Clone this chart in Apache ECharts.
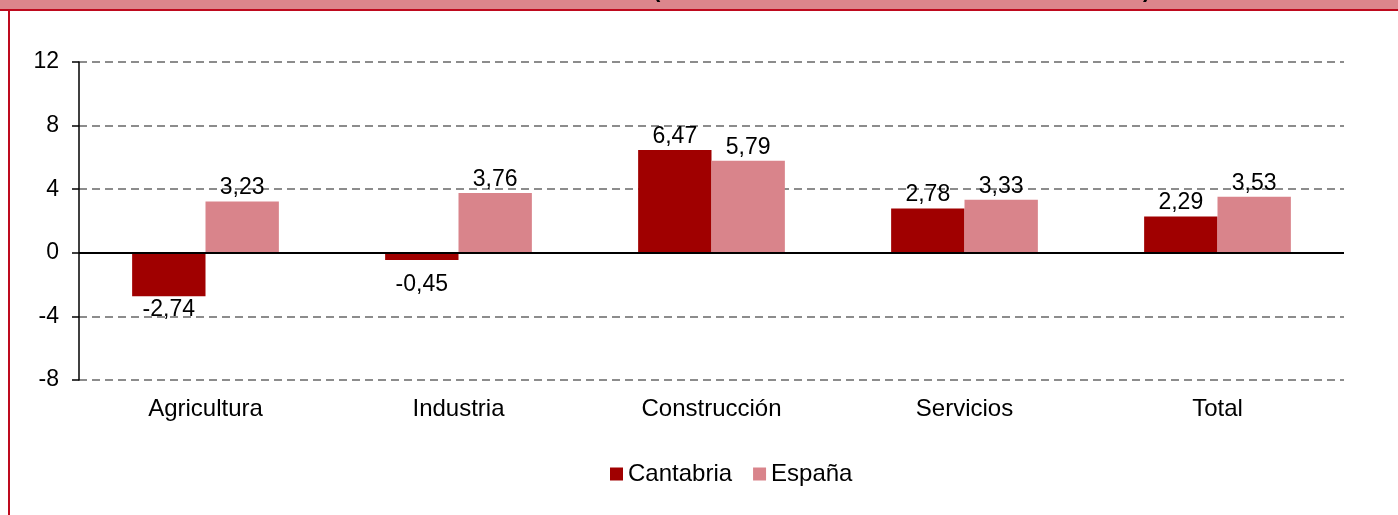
<!DOCTYPE html>
<html>
<head>
<meta charset="utf-8">
<script src="https://cdn.jsdelivr.net/npm/echarts@6/dist/echarts.min.js"></script>
<style>
  html, body { margin: 0; padding: 0; background: #fff; }
  #chart { width: 1398px; height: 515px; }
</style>
</head>
<body>
<div id="chart"></div>
<script>
var categories = ['Agricultura', 'Industria', 'Construcción', 'Servicios', 'Total'];
var cantabria = [-2.74, -0.45, 6.47, 2.78, 2.29];
var espana = [3.23, 3.76, 5.79, 3.33, 3.53];
var yTicks = [-8, -4, 0, 4, 8, 12];

var font = 'Liberation Sans, Arial, sans-serif';

function fmt(p) {
  return p.value.toFixed(2).replace('.', ',');
}

// label nudges, the small negative one sits lower in the original
function withLabels(values) {
  return values.map(function (v) {
    if (v < 0 && v > -1) {
      return { value: v, label: { distance: 13 } };
    }
    return v;
  });
}

var chart = echarts.init(document.getElementById('chart'));
chart.setOption({
  animation: false,
  textStyle: { fontFamily: font },
  grid: { left: 79, right: 54, top: 62, bottom: 135 },
  legend: {
    top: 457,
    left: 605,
    icon: 'rect',
    itemWidth: 13,
    itemHeight: 13,
    itemGap: 21,
    textStyle: { fontSize: 24, color: '#000', fontFamily: font },
    data: ['Cantabria', 'España']
  },
  xAxis: {
    type: 'category',
    data: categories,
    axisLine: { show: false, onZero: false },
    axisTick: { show: false },
    axisLabel: { fontSize: 24, color: '#000', margin: 17, fontFamily: font }
  },
  yAxis: {
    type: 'value',
    min: yTicks[0],
    max: yTicks[yTicks.length - 1],
    interval: 4,
    axisLine: { show: true, lineStyle: { color: '#000', width: 1.5 } },
    axisTick: { show: true, length: 7, lineStyle: { color: '#000', width: 1.5 } },
    axisLabel: { fontSize: 23, color: '#000', margin: 20, fontFamily: font },
    splitLine: { lineStyle: { color: '#8c8c8c', width: 2, type: [8, 5] } }
  },
  series: [
    {
      name: 'Cantabria',
      type: 'bar',
      data: withLabels(cantabria),
      barGap: 0,
      barCategoryGap: '42%',
      itemStyle: { color: '#A00000' },
      label: {
        show: true, position: 'outside', distance: 2,
        fontSize: 23, color: '#000', fontFamily: font, formatter: fmt
      },
      markLine: {
        silent: true,
        symbol: 'none',
        label: { show: false },
        lineStyle: { color: '#000', width: 2, type: 'solid' },
        data: [{ yAxis: 0 }]
      }
    },
    {
      name: 'España',
      type: 'bar',
      data: withLabels(espana),
      barGap: 0,
      barCategoryGap: '42%',
      itemStyle: { color: '#D9848B' },
      label: {
        show: true, position: 'outside', distance: 2,
        fontSize: 23, color: '#000', fontFamily: font, formatter: fmt
      }
    }
  ],
  graphic: [
    { type: 'rect', left: 0, top: 0, shape: { width: 1398, height: 9 }, style: { fill: '#DC868C' } },
    { type: 'rect', left: 0, top: 9, shape: { width: 1398, height: 2 }, style: { fill: '#BE0A1E' } },
    { type: 'rect', left: 8, top: 9, shape: { width: 2, height: 506 }, style: { fill: '#BE0A1E' } },
    { type: 'text', left: 653, top: -20, style: { text: '(', font: 'bold 22px ' + font, fill: '#000' } },
    { type: 'text', left: 1143, top: -20, style: { text: ')', font: 'bold 22px ' + font, fill: '#000' } }
  ]
});
</script>
</body>
</html>
